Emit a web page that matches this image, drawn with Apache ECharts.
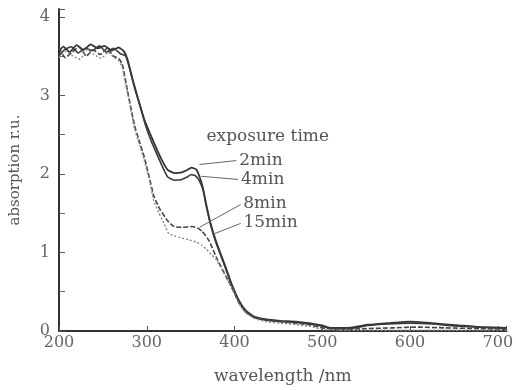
<!DOCTYPE html>
<html>
<head>
<meta charset="utf-8">
<script src="https://cdn.jsdelivr.net/npm/echarts@6/dist/echarts.min.js"></script>
<style>html,body{margin:0;padding:0;background:#fff}#c{width:516px;height:390px}</style>
</head>
<body>
<div id="c"></div>
<script>
var xTicks = [200, 300, 400, 500, 600, 700];
var yTicks = [0, 1, 2, 3, 4];

var wl2 = [200,205,212,220,228,236,244,252,260,268,274,278,284,290,297,305,312,318,324,332,340,346,351,356,360,364,368,373,379,385,390,397,405,413,423,435,452,470,485,500,510,530,552,575,600,625,656,680,710];
var a2  = [3.56,3.62,3.55,3.64,3.58,3.65,3.60,3.63,3.57,3.61,3.56,3.46,3.20,2.96,2.70,2.48,2.30,2.16,2.05,2.01,2.02,2.05,2.08,2.06,1.97,1.82,1.60,1.36,1.14,0.96,0.81,0.59,0.39,0.26,0.18,0.15,0.13,0.12,0.10,0.07,0.04,0.04,0.08,0.10,0.12,0.10,0.07,0.05,0.04];

var wl4 = [200,206,214,222,230,238,246,254,262,270,276,280,286,292,298,305,312,318,324,332,340,346,350,355,359,364,368,373,379,385,390,397,405,413,423,435,452,470,485,500,510,530,552,575,600,625,656,680,710];
var a4  = [3.50,3.58,3.62,3.54,3.60,3.57,3.63,3.55,3.60,3.53,3.50,3.36,3.10,2.88,2.64,2.42,2.24,2.09,1.96,1.92,1.93,1.96,1.99,1.98,1.93,1.80,1.58,1.34,1.12,0.94,0.79,0.57,0.37,0.24,0.17,0.14,0.12,0.11,0.09,0.06,0.03,0.03,0.07,0.09,0.10,0.09,0.06,0.05,0.03];

var wl8 = [200,207,215,223,231,239,247,255,262,268,272,276,280,286,292,297,303,308,315,324,331,340,352,358,363,371,380,390,397,405,413,423,435,452,470,485,500,520,550,580,610,640,680,710];
var a8  = [3.60,3.48,3.55,3.62,3.50,3.58,3.52,3.60,3.50,3.47,3.40,3.18,2.95,2.62,2.40,2.22,1.95,1.72,1.55,1.40,1.33,1.32,1.33,1.31,1.27,1.15,0.92,0.70,0.55,0.36,0.24,0.17,0.14,0.12,0.10,0.08,0.04,0.02,0.03,0.04,0.05,0.04,0.03,0.02];

var wl15 = [200,208,216,224,232,240,248,256,263,268,272,276,280,286,292,297,303,308,314,320,325,332,338,348,357,363,368,374,379,390,397,405,413,423,435,452,470,485,500,520,550,580,610,640,680,710];
var a15  = [3.48,3.56,3.50,3.46,3.58,3.52,3.47,3.55,3.48,3.44,3.36,3.14,2.92,2.58,2.36,2.18,1.92,1.66,1.50,1.36,1.24,1.21,1.19,1.16,1.13,1.09,1.04,0.97,0.91,0.70,0.55,0.35,0.23,0.16,0.12,0.10,0.08,0.06,0.02,0.01,0.01,0.01,0.01,0.01,0.01,0.01];

var names = ['2min', '4min', '8min', '15min'];
var leaderStart = [[360, 2.12], [362, 1.97], [360, 1.32], [375, 1.23]];
var leaderEnd = [[402, 2.17], [404, 1.93], [407, 1.61], [407, 1.37]];
var titleText = 'exposure time';
var titleAt = [367, 2.47];

function pairs(xs, ys) { return xs.map(function (x, i) { return [x, ys[i]]; }); }

var FONT = 'DejaVu Serif';
var dataSets = [pairs(wl2, a2), pairs(wl4, a4), pairs(wl8, a8), pairs(wl15, a15)];
var styles = [
  {color: '#333', width: 1.8, type: 'solid'},
  {color: '#3a3a3a', width: 1.6, type: 'solid'},
  {color: '#444', width: 1.6, type: [5, 2]},
  {color: '#888', width: 1.4, type: [2, 2]}
];

var series = dataSets.map(function (d, i) {
  var s = {
    name: names[i], type: 'line', data: d, showSymbol: false, smooth: 0.15,
    lineStyle: styles[i], silent: true,
    markLine: {
      silent: true, symbol: ['none', 'none'], animation: false,
      lineStyle: {color: '#666', width: 1, type: 'solid'},
      label: {show: true, position: 'end', distance: 3, formatter: names[i],
        color: '#555', fontFamily: FONT, fontSize: 17},
      data: [[{coord: leaderStart[i]}, {coord: leaderEnd[i]}]]
    }
  };
  if (i === 0) {
    s.markPoint = {
      silent: true, animation: false, symbol: 'circle', symbolSize: 2,
      itemStyle: {color: 'rgba(0,0,0,0)'},
      label: {show: true, position: 'right', distance: 0, formatter: titleText,
        color: '#555', fontFamily: FONT, fontSize: 17},
      data: [{coord: titleAt}]
    };
  }
  return s;
});

var chart = echarts.init(document.getElementById('c'), null, {renderer: 'canvas'});
chart.setOption({
  animation: false,
  backgroundColor: '#fff',
  grid: {left: 56, right: 0, top: 9, bottom: 58},
  xAxis: {
    type: 'value', min: 200, max: 710, interval: 100,
    name: 'wavelength /nm', nameLocation: 'middle', nameGap: 37,
    nameTextStyle: {color: '#555', fontFamily: FONT, fontSize: 17},
    axisLine: {show: true, onZero: false, lineStyle: {color: '#333', width: 2}},
    axisTick: {show: true, inside: true, length: 5, lineStyle: {color: '#555'}},
    axisLabel: {color: '#666', fontFamily: FONT, fontSize: 16, margin: 4,
      formatter: function (v) { return xTicks.indexOf(v) >= 0 ? String(v) : ''; }},
    splitLine: {show: false}
  },
  yAxis: {
    type: 'value', min: 0, max: 4.1, interval: 1,
    name: 'absorption r.u.', nameLocation: 'middle', nameGap: 36,
    nameTextStyle: {color: '#555', fontFamily: FONT, fontSize: 15},
    axisLine: {show: true, lineStyle: {color: '#333', width: 2}},
    axisTick: {show: true, inside: true, length: 6, lineStyle: {color: '#555'}},
    minorTick: {show: true, splitNumber: 2, length: 6, lineStyle: {color: '#666'}},
    axisLabel: {color: '#666', fontFamily: FONT, fontSize: 16, margin: 9,
      formatter: function (v) { return yTicks.indexOf(v) >= 0 ? String(v) : ''; }},
    splitLine: {show: false}, minorSplitLine: {show: false}
  },
  series: series
});
</script>
</body>
</html>
